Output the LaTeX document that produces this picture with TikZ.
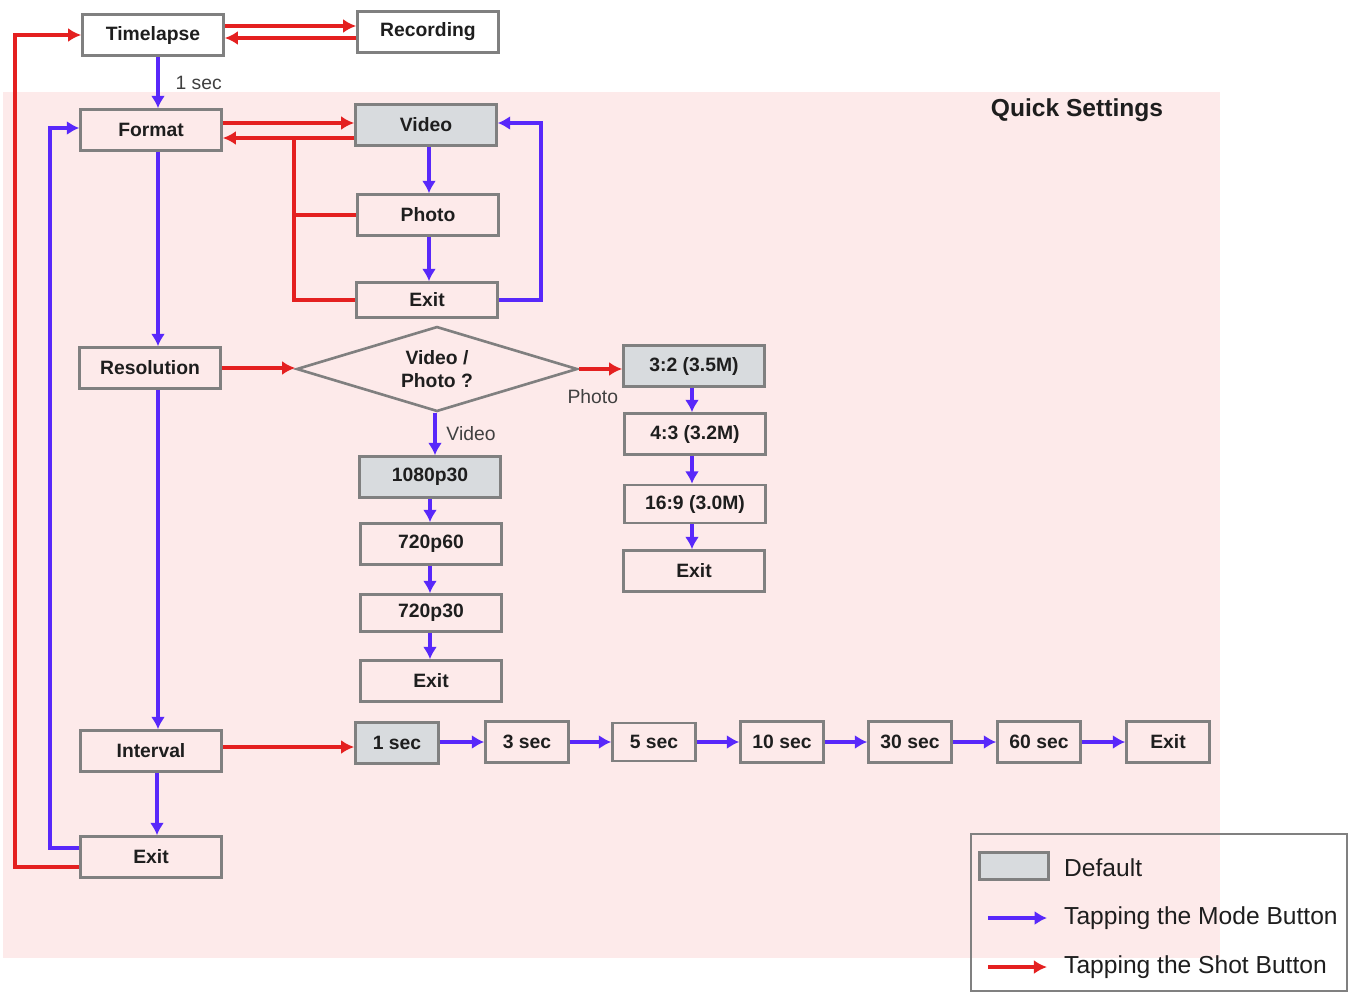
\documentclass[tikz,border=0pt]{standalone}
\usepackage{fontspec}
\setmainfont{Liberation Sans}
\usetikzlibrary{arrows.meta,shapes.geometric,calc}
\definecolor{mblue}{RGB}{88,40,250}
\definecolor{sred}{RGB}{228,32,32}
\definecolor{bg}{RGB}{253,234,234}
\definecolor{bgray}{RGB}{128,128,128}
\definecolor{dfill}{RGB}{216,219,222}
\definecolor{txt}{RGB}{30,30,30}
\begin{document}
\begin{tikzpicture}[x=0.02cm,y=-0.02cm,
 bx/.style={draw=bgray,line width=1.5pt,minimum width=2.82cm,minimum height=0.82cm,inner sep=0pt,text=txt,font=\bfseries\fontsize{11}{13}\selectfont},
 sbx/.style={bx,minimum width=1.66cm},
 dflt/.style={fill=dfill},
 wfill/.style={fill=white},
 mode/.style={draw=mblue,line width=1.9pt,-{Latex[length=7pt,width=8pt]}},
 shot/.style={draw=sred,line width=2pt,-{Latex[length=7.5pt,width=8pt]}},
 modeline/.style={draw=mblue,line width=1.9pt},
 shotline/.style={draw=sred,line width=2pt},
 lbl/.style={font=\fontsize{11}{13}\selectfont,text=black!75},
 leg/.style={font=\fontsize{14}{16}\selectfont,text=txt,anchor=west}]
\useasboundingbox (0,0) rectangle (1349,992);
\fill[white] (0,0) rectangle (1349,992);
\fill[bg] (3,92) rectangle (1220,958);

% nodes
\node[bx,wfill] (tl) at (153,35) {Timelapse};
\node[bx,wfill] (rec) at (428,32) {Recording};
\node[bx] (fmt) at (151,130) {Format};
\node[bx,dflt] (vid) at (426,125) {Video};
\node[bx] (pho) at (428,215) {Photo};
\node[bx,minimum height=0.7cm] (ex1) at (427,300) {Exit};
\node[bx] (res) at (150,368) {Resolution};
\node[diamond,draw=bgray,line width=1.5pt,minimum width=5.62cm,minimum height=1.7cm,inner sep=0pt,aspect=3.3,align=center,text=txt,font=\bfseries\fontsize{11}{13}\selectfont] (dia) at (437,369) {Video /\\Photo ?};
\node[bx,dflt] (r1080) at (430,477) {1080p30};
\node[bx] (r720a) at (431,544) {720p60};
\node[bx,minimum height=0.74cm] (r720b) at (431,613) {720p30};
\node[bx] (ex2) at (431,681) {Exit};
\node[bx,dflt] (p32) at (694,366) {3:2 (3.5M)};
\node[bx] (p43) at (695,434) {4:3 (3.2M)};
\node[bx,minimum height=0.76cm] (p169) at (695,504) {16:9 (3.0M)};
\node[bx] (ex3) at (694,571) {Exit};
\node[bx] (int) at (151,751) {Interval};
\node[sbx,dflt] (s1) at (397,743) {1 sec};
\node[sbx] (s3) at (527,742) {3 sec};
\node[sbx,minimum height=0.76cm] (s5) at (654,742) {5 sec};
\node[sbx] (s10) at (782,742) {10 sec};
\node[sbx] (s30) at (910,742) {30 sec};
\node[sbx] (s60) at (1039,742) {60 sec};
\node[sbx] (ex4) at (1168,742) {Exit};
\node[bx] (ex5) at (151,857) {Exit};
\node[text=txt,font=\bfseries\fontsize{14}{16}\selectfont] (qs) at (1077,110) {Quick Settings};

% connectors
\draw[shot] (tl.east|-0,26) -- (rec.west|-0,26);
\draw[shot] (rec.west|-0,38) -- (tl.east|-0,38);
\draw[mode] (tl.south-|158,0) -- (fmt.north-|158,0) node[lbl,midway,right,xshift=0.2cm] {1 sec};
\draw[shot] (fmt.east|-0,123) -- (vid.west|-0,123);
\draw[shot] (vid.west|-0,138) -- (fmt.east|-0,138);
\draw[shotline] (pho.west) -| (294,138);
\draw[shotline] (ex1.west) -| (294,138);
\draw[mode] (vid.south-|429,0) -- (pho.north-|429,0);
\draw[mode] (pho.south-|429,0) -- (ex1.north-|429,0);
\draw[mode] (ex1.east) -- (541,300) -- (541,123) -- (vid.east|-0,123);
\draw[mode] (fmt.south-|158,0) -- (res.north-|158,0);
\draw[shot] (res.east) -- (dia.west|-res.east);
\draw[shot] (dia.east) -- (p32.west|-dia.east) node[lbl,at start,xshift=0.28cm,yshift=-0.56cm] {Photo};
\draw[mode] (dia.south-|435,0) -- (r1080.north-|435,0) node[lbl,midway,xshift=0.72cm] {Video};
\draw[mode] (r1080.south-|430,0) -- (r720a.north-|430,0);
\draw[mode] (r720a.south-|430,0) -- (r720b.north-|430,0);
\draw[mode] (r720b.south-|430,0) -- (ex2.north-|430,0);
\draw[mode] (p32.south-|692,0) -- (p43.north-|692,0);
\draw[mode] (p43.south-|692,0) -- (p169.north-|692,0);
\draw[mode] (p169.south-|692,0) -- (ex3.north-|692,0);
\draw[mode] (res.south-|158,0) -- (int.north-|158,0);
\draw[shot] (int.east|-0,747) -- (s1.west|-0,747);
\draw[mode] (s1.east|-0,742) -- (s3.west|-0,742);
\draw[mode] (s3.east) -- (s5.west);
\draw[mode] (s5.east) -- (s10.west);
\draw[mode] (s10.east) -- (s30.west);
\draw[mode] (s30.east) -- (s60.west);
\draw[mode] (s60.east) -- (ex4.west);
\draw[mode] (int.south-|157,0) -- (ex5.north-|157,0);
\draw[mode] (ex5.west|-0,848) -| (50,128) -- (fmt.west|-0,128);
\draw[shot] (ex5.west|-0,867) -| (15,35) -- (tl.west);

% legend
\draw[bgray,line width=1.3pt] (971,834) rectangle (1347,991);
\node[draw=bgray,line width=1.5pt,fill=dfill,minimum width=1.38cm,minimum height=0.54cm,inner sep=0pt] (sw) at (1014,866) {};
\node[leg] (ldef) at (1058,868) {Default};
\coordinate (lm1) at (988,918);
\coordinate (lm2) at (1047,918);
\draw[mode] (lm1) -- (lm2);
\node[leg] (lmode) at (1058,918) {Tapping the Mode Button};
\coordinate (ls1) at (988,967);
\coordinate (ls2) at (1047,967);
\draw[shot] (ls1) -- (ls2);
\node[leg] (lshot) at (1058,967) {Tapping the Shot Button};
\end{tikzpicture}
\end{document}
